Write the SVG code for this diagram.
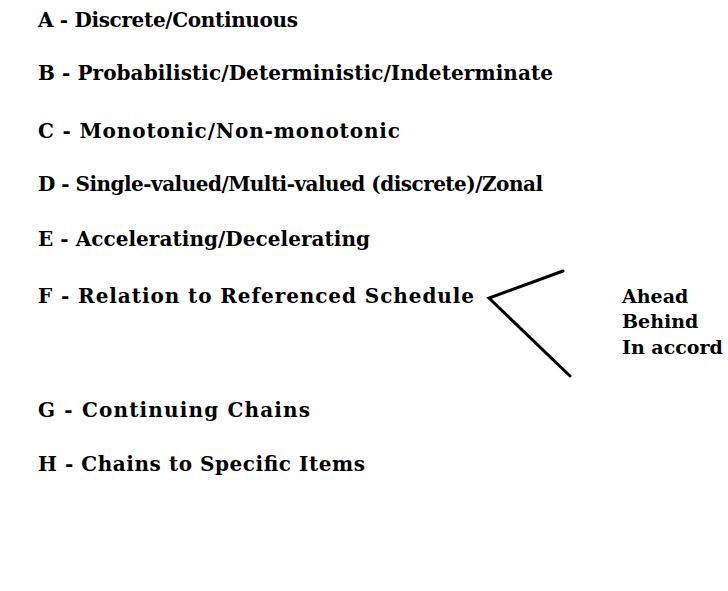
<svg xmlns="http://www.w3.org/2000/svg" width="728" height="591" viewBox="0 0 728 591">
  <style>
    .item { font-family: "DejaVu Serif", "Liberation Serif", serif; font-weight: bold; font-size: 20px; fill: #000; }
    .option { font-family: "DejaVu Serif", "Liberation Serif", serif; font-weight: bold; font-size: 19px; fill: #000; }
    .branch { stroke: #000; stroke-width: 3; fill: none; stroke-linecap: round; stroke-linejoin: miter; }
  </style>
  <rect width="728" height="591" fill="#fff"/>
  <g id="item-a"><text class="item" x="38" y="27" textLength="260" lengthAdjust="spacing">A - Discrete/Continuous</text></g>
  <g id="item-b"><text class="item" x="38" y="80" textLength="515" lengthAdjust="spacing">B - Probabilistic/Deterministic/Indeterminate</text></g>
  <g id="item-c"><text class="item" x="38" y="138" textLength="362" lengthAdjust="spacing">C - Monotonic/Non-monotonic</text></g>
  <g id="item-d"><text class="item" x="38" y="191" textLength="505" lengthAdjust="spacing">D - Single-valued/Multi-valued (discrete)/Zonal</text></g>
  <g id="item-e"><text class="item" x="38" y="246" textLength="332" lengthAdjust="spacing">E - Accelerating/Decelerating</text></g>
  <g id="item-f"><text class="item" x="38" y="303" textLength="436" lengthAdjust="spacing">F - Relation to Referenced Schedule</text></g>
  <g id="opt-ahead"><text class="option" x="622" y="303">Ahead</text></g>
  <g id="opt-behind"><text class="option" x="622" y="328">Behind</text></g>
  <g id="opt-accord"><text class="option" x="622" y="354">In accord</text></g>
  <g id="item-g"><text class="item" x="38" y="417" textLength="272" lengthAdjust="spacing">G - Continuing  Chains</text></g>
  <g id="item-h"><text class="item" x="38" y="471" textLength="327" lengthAdjust="spacing">H - Chains to Specific Items</text></g>
  <g id="connectors">
    <polyline class="branch" points="563,271 489,298 570,376"/>
  </g>
</svg>
